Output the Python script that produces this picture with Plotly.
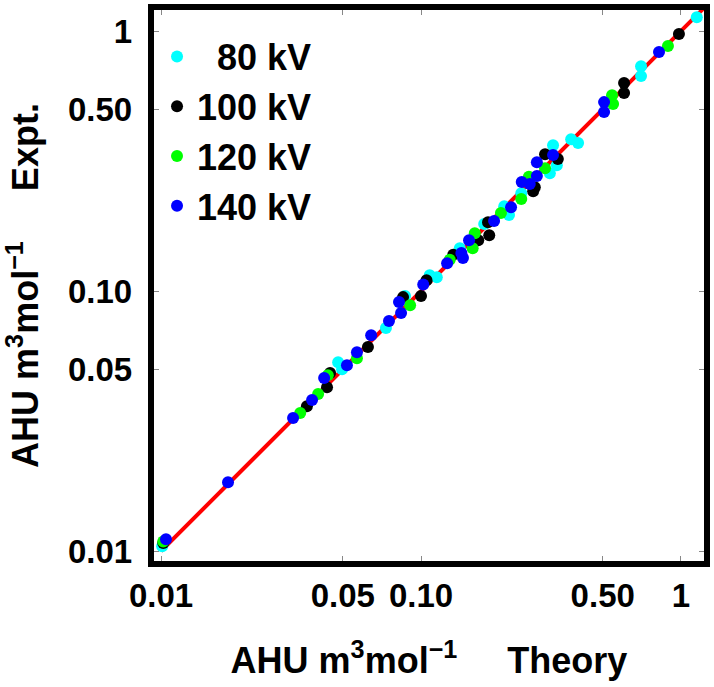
import plotly.graph_objects as go

# Theory (x) vs Expt. (y) AHU values
x80 = [1.15, 0.702, 0.702, 0.378, 0.402, 0.322, 0.333, 0.313, 0.243, 0.209, 0.218, 0.175,
       0.141, 0.115, 0.108, 0.0868, 0.0733, 0.048, 0.0497, 0.0101]
y80 = [1.13, 0.733, 0.671, 0.384, 0.371, 0.364, 0.305, 0.284, 0.238, 0.212, 0.196, 0.181,
       0.146, 0.113, 0.115, 0.0957, 0.0721, 0.0533, 0.0501, 0.01045]

x100 = [0.982, 0.604, 0.604, 0.300, 0.336, 0.274, 0.270, 0.181, 0.183, 0.166, 0.133, 0.105,
        0.100, 0.0853, 0.0625, 0.0447, 0.0435, 0.0364, 0.0102]
y100 = [0.974, 0.631, 0.578, 0.336, 0.322, 0.251, 0.242, 0.184, 0.164, 0.157, 0.138, 0.110,
        0.0957, 0.0948, 0.0609, 0.0484, 0.0427, 0.0361, 0.01074]

x120 = [0.891, 0.543, 0.548, 0.300, 0.260, 0.243, 0.203, 0.161, 0.158, 0.129, 0.0908, 0.0567,
        0.0438, 0.0402, 0.0343, 0.0102]
y120 = [0.876, 0.567, 0.524, 0.297, 0.275, 0.226, 0.1995, 0.167, 0.146, 0.132, 0.0883, 0.0552,
        0.0475, 0.0402, 0.0340, 0.0109]

x140 = [0.823, 0.506, 0.506, 0.322, 0.279, 0.279, 0.244, 0.262, 0.222, 0.191, 0.153, 0.143,
        0.145, 0.126, 0.102, 0.0823, 0.0838, 0.0753, 0.0643, 0.0567, 0.0519, 0.0424, 0.0381,
        0.0322, 0.0181, 0.01045]
y140 = [0.830, 0.533, 0.488, 0.334, 0.313, 0.277, 0.263, 0.258, 0.210, 0.186, 0.157, 0.140,
        0.134, 0.128, 0.106, 0.0907, 0.0823, 0.0767, 0.0677, 0.0582, 0.0519, 0.0463, 0.0381,
        0.0325, 0.0184, 0.0111]

# identity line (Expt. = Theory)
line_x = [0.01, 1.3]
line_y = [0.01, 1.3]

tick_vals = [0.01, 0.05, 0.1, 0.5, 1]
tick_text = ["0.01", "0.05", "0.10", "0.50", "1"]

series = [
    ("\u00a0\u00a080 kV", x80, y80, "#00ffff"),
    ("100 kV", x100, y100, "#000000"),
    ("120 kV", x120, y120, "#00ff00"),
    ("140 kV", x140, y140, "#0000ff"),
]

FONT = "Liberation Sans"

fig = go.Figure()
fig.add_trace(go.Scatter(x=line_x, y=line_y, mode="lines",
                         line=dict(color="#ff0000", width=4),
                         showlegend=False, hoverinfo="skip"))
for i, (name, xs, ys, col) in enumerate(series):
    fig.add_trace(go.Scatter(x=xs, y=ys, mode="markers", name=name,
                             legendgroup=f"g{i}",
                             marker=dict(color=col, size=12, line=dict(width=0))))

axis_common = dict(
    type="log",
    tickvals=tick_vals,
    ticks="inside",
    ticklen=5,
    tickwidth=1,
    tickcolor="#888888",
    showline=True,
    linewidth=6,
    linecolor="black",
    mirror="allticks",
    showgrid=False,
    zeroline=False,
    tickfont=dict(family=FONT, size=33, color="black", weight="bold"),
    automargin=False,
)

fig.update_xaxes(**axis_common, range=[-2.027, 0.0885],
                 ticktext=tick_text,
                 title=dict(text="AHU m<sup>3</sup>mol<sup>\u22121</sup>\u00a0\u00a0\u00a0\u00a0\u00a0Theory",
                            font=dict(family=FONT, size=36, color="black", weight="bold"),
                            standoff=37))
fig.update_yaxes(**axis_common, range=[-2.038, 0.081],
                 ticktext=[t + "\u00a0" for t in tick_text],
                 title=dict(text="AHU m<sup>3</sup>mol<sup>\u22121</sup>\u00a0\u00a0\u00a0\u00a0\u00a0Expt.",
                            font=dict(family=FONT, size=36, color="black", weight="bold"),
                            standoff=22))

fig.update_layout(
    width=714, height=687,
    margin=dict(l=154, r=10, t=10, b=126),
    paper_bgcolor="white",
    plot_bgcolor="white",
    showlegend=True,
    legend=dict(x=0.0055, y=0.97, xanchor="left", yanchor="top",
                bgcolor="rgba(0,0,0,0)", borderwidth=0,
                tracegroupgap=0,
                font=dict(family=FONT, size=36, color="black", weight="bold")),
)

fig.write_html("out.html", config={"displayModeBar": False},
               post_script="document.body.style.margin='0';")
